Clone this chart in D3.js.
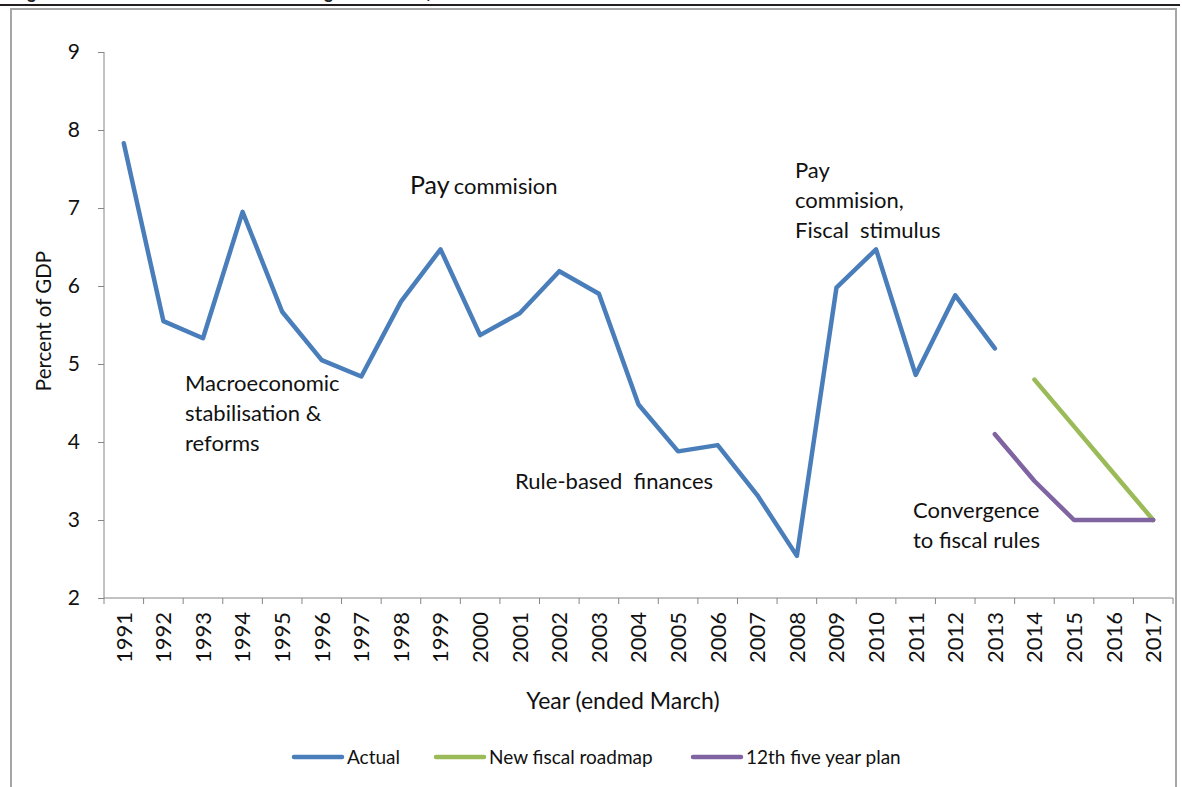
<!DOCTYPE html>
<html>
<head>
<meta charset="utf-8">
<script src="https://cdn.jsdelivr.net/npm/d3@7"></script>
<style>
  body { margin: 0; background: #fff; }
  svg { display: block; font-family: Lato, "Open Sans", sans-serif; }
</style>
</head>
<body>
<svg id="chart"></svg>
<script>
//Chart data
const years = ["1991","1992","1993","1994","1995","1996","1997","1998","1999","2000","2001","2002","2003","2004","2005","2006","2007","2008","2009","2010","2011","2012","2013","2014","2015","2016","2017"];
const actualYears = years.slice(0, 23);
const actualValues = [7.83, 5.55, 5.33, 6.95, 5.67, 5.05, 4.84, 5.8, 6.47, 5.37, 5.65, 6.19, 5.9, 4.48, 3.88, 3.96, 3.32, 2.54, 5.98, 6.47, 4.86, 5.88, 5.2];
const roadmapYears = ["2014","2015","2016","2017"];
const roadmapValues = [4.8, 4.2, 3.6, 3.0];
const planYears = ["2013","2014","2015","2016","2017"];
const planValues = [4.1, 3.5, 3.0, 3.0, 3.0];
const yTicks = [2, 3, 4, 5, 6, 7, 8, 9];
const seriesNames = ["Actual", "New fiscal roadmap", "12th five year plan"];
const seriesColors = ["#4a7ebb", "#9bbb59", "#8064a2"];

const w = 1182;
const h = 787;

const chart = d3.select("#chart")
                .attr("width", w)
                .attr("height", h);

//Cut-off caption above the frame
chart.append("text")
     .attr("x", 10)
     .attr("y", -2)
     .attr("font-family", "'Liberation Sans', Arial, sans-serif")
     .attr("font-size", 18)
     .attr("font-weight", "bold")
     .attr("fill", "#222")
     .text("Figure 1: Fiscal deficit of the central government, 1991-2017");

chart.append("line")
     .attr("x1", 0).attr("x2", 1180)
     .attr("y1", 5).attr("y2", 5)
     .attr("stroke", "#231f20")
     .attr("stroke-width", 2);

//Chart frame
chart.append("path")
     .attr("d", "M11,800 V9 H1176 V800")
     .attr("fill", "none")
     .attr("stroke", "#a6a6a6")
     .attr("stroke-width", 2);

//Scales
const x = d3.scaleBand().domain(years).range([104, 1173]);
const cx = (d) => x(d) + x.bandwidth() / 2;
const y = d3.scaleLinear().domain([2, 9]).range([598, 52]);

//Y axis
const yAxis = chart.append("g")
                   .attr("transform", "translate(104,0)")
                   .call(d3.axisLeft(y).tickValues(yTicks).tickSize(6).tickPadding(18).tickFormat(d3.format("d")));
yAxis.select(".domain").attr("stroke", "#868686").attr("d", "M0,52V598");
yAxis.selectAll(".tick line").attr("stroke", "#868686");
yAxis.selectAll(".tick text")
     .attr("font-family", "Lato, sans-serif")
     .attr("font-size", 21)
     .attr("fill", "#111");

//X axis
const xAxis = chart.append("g")
                   .attr("transform", "translate(0,598)");
xAxis.append("line")
     .attr("x1", 104).attr("x2", 1173)
     .attr("stroke", "#868686");
xAxis.selectAll(".xtick")
     .data(years.map((d) => x(d)).concat([x.range()[1]]))
     .enter()
     .append("line")
     .attr("x1", (d) => d).attr("x2", (d) => d)
     .attr("y1", 0).attr("y2", 6)
     .attr("stroke", "#868686");
xAxis.selectAll(".xlabel")
     .data(years)
     .enter()
     .append("text")
     .attr("transform", (d) => `translate(${cx(d)},14) rotate(-90)`)
     .attr("text-anchor", "end")
     .attr("dy", "0.36em")
     .attr("font-size", 22)
     .attr("fill", "#111")
     .text((d) => d);

//Axis titles
chart.append("text")
     .attr("transform", "translate(44,321) rotate(-90)")
     .attr("text-anchor", "middle")
     .attr("dy", "0.36em")
     .attr("font-size", 20.5)
     .attr("fill", "#111")
     .text("Percent of GDP");

chart.append("text")
     .attr("x", 623)
     .attr("y", 701)
     .attr("text-anchor", "middle")
     .attr("dy", "0.36em")
     .attr("font-size", 23)
     .attr("fill", "#111")
     .text("Year (ended March)");

//Lines
const line = d3.line().x((d) => cx(d[0])).y((d) => y(d[1]));
const series = [
  d3.zip(actualYears, actualValues),
  d3.zip(roadmapYears, roadmapValues),
  d3.zip(planYears, planValues)
];
chart.selectAll(".series")
     .data(series)
     .enter()
     .append("path")
     .attr("d", line)
     .attr("fill", "none")
     .attr("stroke", (d, i) => seriesColors[i])
     .attr("stroke-width", 4.5)
     .attr("stroke-linejoin", "round")
     .attr("stroke-linecap", "round");

//Annotations
const notes = [
  { x: 185, y: 383, lines: ["Macroeconomic", "stabilisation &", "reforms"] },
  { x: 795, y: 170, lines: ["Pay", "commision,", "Fiscal  stimulus"] },
  { x: 515, y: 481, lines: ["Rule-based  finances"] },
  { x: 913, y: 510, lines: ["Convergence", "to fiscal rules"] }
];
notes.forEach((n) => {
  n.lines.forEach((t, i) => {
    chart.append("text")
         .attr("x", n.x)
         .attr("y", n.y + i * 30)
         .attr("dy", "0.36em")
         .attr("font-size", 22)
         .attr("fill", "#111")
         .style("white-space", "pre")
         .text(t);
  });
});
const pay = chart.append("text")
                 .attr("x", 410)
                 .attr("y", 188)
                 .attr("dy", "0.36em")
                 .attr("fill", "#111");
pay.append("tspan").attr("font-size", 25).text("Pay");
pay.append("tspan").attr("font-size", 22).attr("dx", 4).text("commision");

//Legend
const legendX = [292, 434, 691];
const legend = chart.append("g")
                    .attr("transform", "translate(0,757)");
const item = legend.selectAll(".item")
                   .data(seriesNames)
                   .enter()
                   .append("g")
                   .attr("transform", (d, i) => `translate(${legendX[i]},0)`);
item.append("line")
    .attr("x1", 2).attr("x2", 50)
    .attr("stroke", (d, i) => seriesColors[i])
    .attr("stroke-width", 4.5)
    .attr("stroke-linecap", "round");
item.append("text")
    .attr("x", 55)
    .attr("dy", "0.36em")
    .attr("font-size", 19)
    .attr("fill", "#111")
    .text((d) => d);
</script>
</body>
</html>
